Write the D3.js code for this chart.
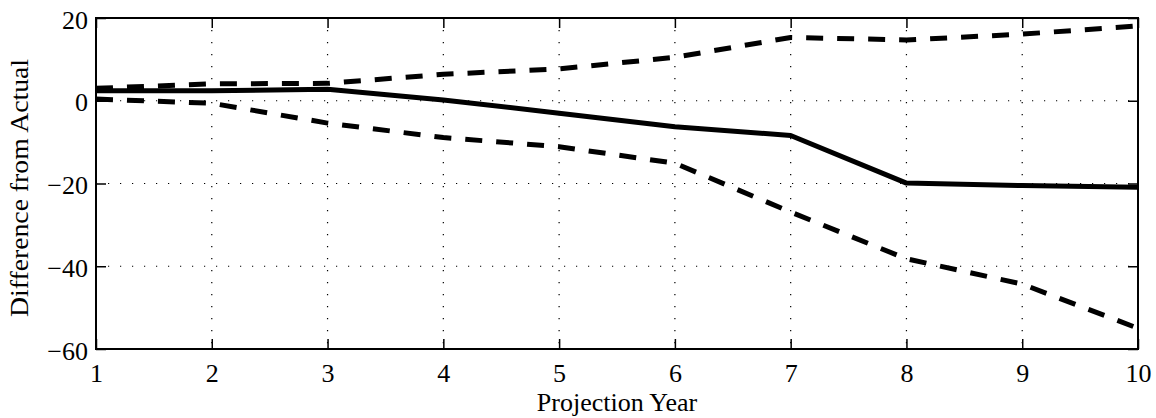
<!DOCTYPE html>
<html>
<head>
<meta charset="utf-8">
<script src="https://cdn.jsdelivr.net/npm/d3@7"></script>
<style>
  html, body { margin: 0; padding: 0; background: #fff; }
  svg text { font-family: "Liberation Serif", "Times New Roman", serif; fill: #000; }
</style>
</head>
<body>
<div id="vis"></div>
<script>
// chart data
const years = [1, 2, 3, 4, 5, 6, 7, 8, 9, 10];
const meanDiff  = [2.4, 2.4, 2.8, 0.2, -3.0, -6.3, -8.4, -19.9, -20.5, -20.9];
const upperDiff = [3.0, 4.1, 4.2, 6.4, 7.7, 10.5, 15.3, 14.7, 16.1, 18.1];
const lowerDiff = [0.4, -0.6, -5.4, -8.9, -11.1, -15.1, -26.9, -38.2, -44.3, -55.0];
const yTicks = [20, 0, -20, -40, -60];

const width = 1156, height = 418;
const margin = { left: 96, right: 18, top: 18, bottom: 69 };
const innerW = width - margin.left - margin.right;
const innerH = height - margin.top - margin.bottom;

const svg = d3.select('#vis').append('svg')
  .attr('width', width)
  .attr('height', height);

const g = svg.append('g').attr('transform', `translate(${margin.left},${margin.top})`);

const x = d3.scaleLinear().domain([1, 10]).range([0, innerW]);
const y = d3.scaleLinear().domain([-60, 20]).range([innerH, 0]);

// dotted grid
g.append('g').selectAll('line.vgrid').data(years.slice(1, -1)).enter().append('line')
  .attr('x1', d => x(d)).attr('x2', d => x(d))
  .attr('y1', 0).attr('y2', innerH)
  .attr('stroke', '#000').attr('stroke-width', 1.2)
  .attr('stroke-dasharray', '1.2,10.8');
g.append('g').selectAll('line.hgrid').data(yTicks.slice(1, -1)).enter().append('line')
  .attr('x1', 0).attr('x2', innerW)
  .attr('y1', d => y(d)).attr('y2', d => y(d))
  .attr('stroke', '#000').attr('stroke-width', 1.2)
  .attr('stroke-dasharray', '1.2,10.8');

// axes with inward ticks, mirrored on top/right
const fontSize = 26;
const xAxis = g.append('g').attr('transform', `translate(0,${innerH})`)
  .call(d3.axisBottom(x).tickValues(years).tickSize(-10).tickFormat(d3.format('d')));
const yAxis = g.append('g')
  .call(d3.axisLeft(y).tickValues(yTicks).tickSize(-10).tickFormat(d => d < 0 ? '\u2212' + Math.abs(d) : d));
g.append('g').call(d3.axisTop(x).tickValues(years).tickSize(-10).tickFormat(''));
g.append('g').attr('transform', `translate(${innerW},0)`)
  .call(d3.axisRight(y).tickValues(yTicks).tickSize(-10).tickFormat(''));

g.selectAll('.domain').remove();
g.selectAll('.tick line').attr('stroke', '#000').attr('stroke-width', 1.5);
g.selectAll('.tick text').attr('font-size', fontSize).attr('font-family', '"Liberation Serif", "Times New Roman", serif');
xAxis.selectAll('.tick text').attr('dy', null).attr('y', 33);
yAxis.selectAll('.tick text').attr('dy', null).attr('y', 10).attr('x', -8);

// box
g.append('rect').attr('width', innerW).attr('height', innerH)
  .attr('fill', 'none').attr('stroke', '#000').attr('stroke-width', 2);

// lines
const line = d3.line().x((d, i) => x(years[i])).y(d => y(d));
const series = [
  { values: upperDiff, dash: '17,14' },
  { values: lowerDiff, dash: '17,14' },
  { values: meanDiff, dash: null }
];
g.selectAll('path.series').data(series).enter().append('path')
  .attr('class', 'series')
  .attr('d', d => line(d.values))
  .attr('fill', 'none')
  .attr('stroke', '#000')
  .attr('stroke-width', 5)
  .attr('stroke-linejoin', 'round')
  .attr('stroke-dasharray', d => d.dash);

// axis titles
svg.append('text')
  .attr('x', margin.left + innerW / 2).attr('y', 411)
  .attr('text-anchor', 'middle').attr('font-size', fontSize)
  .text('Projection Year');
svg.append('text')
  .attr('transform', 'translate(28,188) rotate(-90)')
  .attr('text-anchor', 'middle').attr('font-size', fontSize)
  .attr('textLength', 258).attr('lengthAdjust', 'spacingAndGlyphs')
  .text('Difference from Actual');
</script>
</body>
</html>
